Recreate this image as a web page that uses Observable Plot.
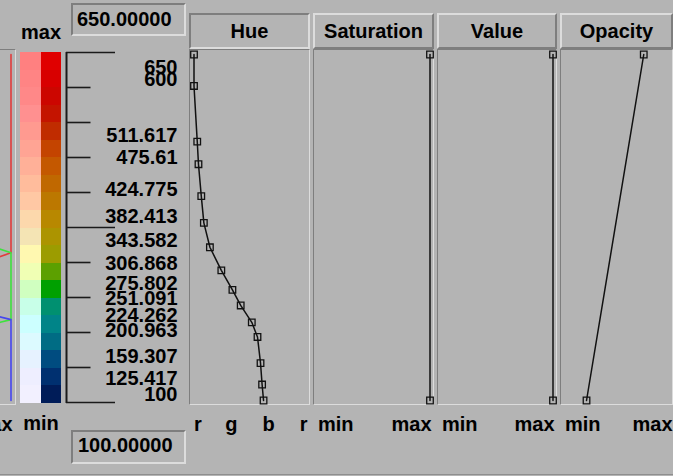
<!DOCTYPE html>
<html><head><meta charset="utf-8">
<script src="https://cdn.jsdelivr.net/npm/d3@7"></script>
<script src="https://cdn.jsdelivr.net/npm/@observablehq/plot@0.6"></script>
<style>
html,body{margin:0;padding:0;background:#b4b4b4;}
#root{position:relative;width:673px;height:476px;overflow:hidden;background:#b4b4b4;font-family:"Liberation Sans",Arial,sans-serif;font-weight:bold;font-size:20px;color:#000;}
.lbl{position:absolute;white-space:nowrap;line-height:20px;height:20px;}
.sunken,.raised{position:absolute;box-sizing:border-box;border-style:solid;border-width:2px;}
.sunken{border-color:#7e7e7e #dcdcdc #dcdcdc #7e7e7e;}
.raised{border-color:#dcdcdc #7e7e7e #7e7e7e #dcdcdc;}
.thin{border-width:1px;}
</style></head>
<body><div id="root"></div>
<script>
// ---------------- data ----------------
const controlValues = [650, 600, 511.617, 475.61, 424.775, 382.413, 343.582, 306.868, 275.802, 251.091, 224.262, 200.963, 159.307, 125.417, 100];
const hueValues     = [0, 0, 0.029, 0.040, 0.065, 0.088, 0.142, 0.244, 0.343, 0.417, 0.516, 0.567, 0.594, 0.608, 0.621];
const satStops = [650, 100];
const satValues = [1, 1];
const valStops = [650, 100];
const valValues = [1, 1];
const opacityStops = [650, 100];
const opacityValues = [0.743, 0.203];
const hueTickPos = [0, 1/3, 2/3, 1];
const hueTickLabels = ["r", "g", "b", "r"];
const rangeTickPos = [0, 1];
const rangeTickLabels = ["min", "max"];
const axisTicks = [100, 155, 210, 265, 320, 375, 430, 485, 540, 595, 650];
const majorTicks = [100, 375, 650];
const maxText = "650.00000";
const minText = "100.00000";
const panelTitles = ["Hue", "Saturation", "Value", "Opacity"];
// colorbar samples, top (max) to bottom (min)
const colorbarRight = ["#e00000","#d80000","#cc0600","#c41400","#c02c00","#c44400","#c45800","#c06800","#bc7800","#b88800",
                       "#ac9400","#9c9c00","#5ca000","#00a000","#009070","#008488","#006c84","#004c80","#003070","#001c58"];
const colorbarLeft  = ["#ff8080","#ff8484","#ff8888","#ff9090","#ff9a90","#ffa494","#ffb098","#ffbc9c","#ffc8a4","#fcd8ac",
                       "#f4e4b4","#fff8b0","#f0ffb4","#d0ffc0","#c8ffe8","#ccffff","#dcfaff","#e6f2ff","#eeeeff","#f2f0ff"];

// ---------------- helpers ----------------
const root = document.getElementById("root");
const FONT = {fontSize: 20, fontWeight: "bold", fontFamily: "Liberation Sans, Arial, sans-serif", fill: "#000"};
function box(cls, l, t, w, h) {
  const d = document.createElement("div"); d.className = cls;
  Object.assign(d.style, {left: l + "px", top: t + "px", width: w + "px", height: h + "px"});
  root.appendChild(d); return d;
}
function label(text, l, baseline, w, align) {
  const d = document.createElement("div"); d.className = "lbl"; d.textContent = text;
  d.style.left = l + "px"; d.style.top = (baseline - 17) + "px";
  if (w) { d.style.width = w + "px"; d.style.textAlign = align || "center"; }
  root.appendChild(d); return d;
}
function put(svg, l, t) {
  svg.style.position = "absolute"; svg.style.left = l + "px"; svg.style.top = t + "px";
  svg.style.maxWidth = "none";
  root.appendChild(svg);
}

const rows = controlValues.map((v, i) => ({value: v, hue: hueValues[i]}));

// rgb curves derived from the hue control points (s = v = 1)
function hsv2rgb(h) {
  const f = n => { const k = (n + h * 6) % 6; return 1 - Math.max(0, Math.min(k, 4 - k, 1)); };
  return [f(5), f(3), f(1)];
}
const hueRows = [];
rows.forEach((d, i) => {
  hueRows.push(d);
  const n = rows[i + 1];
  if (!n) return;
  for (let j = 1; j < 6; j++) {
    const c = j / 6;
    if ((c - d.hue) * (c - n.hue) < 0) hueRows.push({value: d.value + (c - d.hue) / (n.hue - d.hue) * (n.value - d.value), hue: c});
  }
});
const rgbRows = hueRows.map(d => { const [r, g, b] = hsv2rgb(d.hue); return {value: d.value, r, g, b}; });

// ---------------- chrome ----------------
box("sunken", 71, 3, 115, 33);
label(maxText, 77, 26);
box("sunken", 71, 430, 115, 34);
label(minText, 78, 452);
label("max", 20, 39, 42);
label("min", 20, 430, 42);

const panels = [
  {left: -106, width: 121},
  {left: 189, width: 121},
  {left: 313, width: 121},
  {left: 437, width: 120},
  {left: 560, width: 115}
];
box("sunken thin", -106, 49, 122, 356);
panelTitles.forEach((t, i) => {
  const p = panels[i + 1];
  const w = i === 3 ? 113 : p.width;
  box(i === 0 ? "sunken" : "raised", p.left, 13, w, 36);
  label(t, p.left, 38, w);
  box("sunken thin", p.left, 49, w, 356);
});
const bottomLine = document.createElement("div");
Object.assign(bottomLine.style, {position: "absolute", left: "0px", top: "474px", width: "673px", height: "1px", background: "#8e8e8e"});
root.appendChild(bottomLine);

// ---------------- plots ----------------
function panelPlot(p, xDomain, marks) {
  const svg = Plot.plot({
    width: p.width, height: 354, margin: 0,
    x: {domain: xDomain, range: [4.5, p.width - 4.5], axis: null},
    y: {domain: [100, 650], range: [350, 4], axis: null},
    style: {background: "transparent", overflow: "visible"},
    marks
  });
  put(svg, p.left, 50);
}
function axisLabels(pos, labels) {
  const data = pos.map((x, i) => ({x, t: labels[i]}));
  const base = {x: "x", text: "t", frameAnchor: "bottom", lineAnchor: "bottom", dy: 26, ...FONT};
  return [
    Plot.text(data.slice(0, 1), {...base, textAnchor: "start"}),
    Plot.text(data.slice(1, -1), {...base, textAnchor: "middle"}),
    Plot.text(data.slice(-1), {...base, textAnchor: "end", dx: 1.5})
  ];
}
const LINE = {stroke: "#111", strokeWidth: 1.5};
const DOT = {symbol: "square", r: 3.7, stroke: "#111", fill: "none", strokeWidth: 1.3};

// RGB component panel
panelPlot(panels[0], [0, 1], [
  Plot.line(rgbRows, {x: "r", y: "value", stroke: "#e23c3c", strokeWidth: 1.6}),
  Plot.line(rgbRows, {x: "g", y: "value", stroke: "#3ee23e", strokeWidth: 1.6}),
  Plot.line(rgbRows, {x: "b", y: "value", stroke: "#4646f0", strokeWidth: 1.6}),
  ...axisLabels(rangeTickPos, rangeTickLabels)
]);
// Hue
panelPlot(panels[1], [0, 1], [
  Plot.line(rows, {x: "hue", y: "value", ...LINE}),
  Plot.dot(rows, {x: "hue", y: "value", ...DOT}),
  ...axisLabels(hueTickPos, hueTickLabels)
]);
// Saturation
const satRows = satStops.map((v, i) => ({value: v, s: satValues[i]}));
panelPlot(panels[2], [0, 1], [
  Plot.line(satRows, {x: "s", y: "value", ...LINE}),
  Plot.dot(satRows, {x: "s", y: "value", ...DOT}),
  ...axisLabels(rangeTickPos, rangeTickLabels)
]);
// Value
const valRows = valStops.map((v, i) => ({value: v, s: valValues[i]}));
panelPlot(panels[3], [0, 1], [
  Plot.line(valRows, {x: "s", y: "value", ...LINE}),
  Plot.dot(valRows, {x: "s", y: "value", ...DOT}),
  ...axisLabels(rangeTickPos, rangeTickLabels)
]);
// Opacity
const opRows = opacityStops.map((v, i) => ({value: v, s: opacityValues[i]}));
panelPlot(panels[4], [0, 1], [
  Plot.line(opRows, {x: "s", y: "value", ...LINE}),
  Plot.dot(opRows, {x: "s", y: "value", ...DOT}),
  ...axisLabels(rangeTickPos, rangeTickLabels)
]);

// colorbar
const nb = colorbarRight.length, step = (650 - 100) / nb;
const bands = [];
colorbarLeft.forEach((c, i) => bands.push({c0: 0, c1: 1, top: 650 - i * step, bot: 650 - (i + 1) * step, fill: c}));
colorbarRight.forEach((c, i) => bands.push({c0: 1, c1: 2, top: 650 - i * step, bot: 650 - (i + 1) * step, fill: c}));
put(Plot.plot({
  width: 41, height: 351, margin: 0,
  x: {domain: [0, 2], range: [0, 41], axis: null},
  y: {domain: [100, 650], range: [351, 0], axis: null},
  style: {background: "transparent", overflow: "visible"},
  marks: [Plot.rect(bands, {x1: "c0", x2: "c1", y1: "bot", y2: "top", fill: "fill", shapeRendering: "crispEdges"})]
}), 20, 52);

// tick axis
const tickRows = axisTicks.map(v => ({value: v, len: majorTicks.includes(v) ? 1 : 0.5}));
put(Plot.plot({
  width: 50, height: 351, margin: 0,
  x: {domain: [0, 1], range: [0, 49], axis: null},
  y: {domain: [100, 650], range: [350, 0], axis: null},
  style: {background: "transparent", overflow: "visible"},
  marks: [
    Plot.ruleX([0], {stroke: "#1a1a1a", strokeWidth: 2}),
    Plot.ruleY(tickRows, {y: "value", x1: 0, x2: "len", stroke: "#1a1a1a", strokeWidth: 1.6})
  ]
}), 66, 52);

// value labels next to the axis
put(Plot.plot({
  width: 120, height: 354, margin: 0,
  x: {domain: [0, 1], range: [0, 120], axis: null},
  y: {domain: [100, 650], range: [350, 4], axis: null},
  style: {background: "transparent", overflow: "visible"},
  marks: [
    Plot.text(rows.slice(0, 1), {y: "value", text: d => String(d.value), frameAnchor: "right", textAnchor: "end", lineAnchor: "bottom", dx: -3, dy: 19, ...FONT}),
    Plot.text(rows.slice(1), {y: "value", text: d => String(d.value), frameAnchor: "right", textAnchor: "end", lineAnchor: "bottom", dx: -3, ...FONT})
  ]
}), 60, 50);
</script>
</body></html>
